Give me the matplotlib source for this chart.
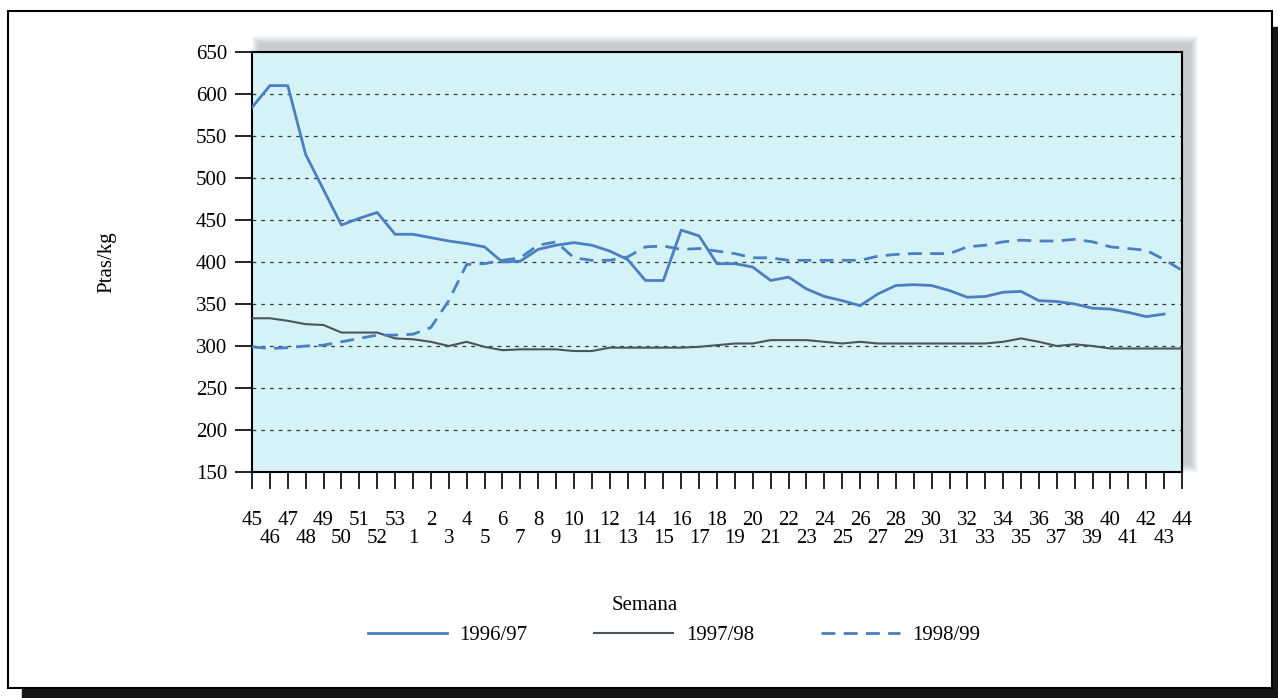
import numpy as np
import matplotlib
matplotlib.use("Agg")
import matplotlib.pyplot as plt
from matplotlib.patches import Rectangle

plt.rcParams["font.family"] = ["Liberation Serif", "DejaVu Serif"]

# Semanas: 45..53 de un año, 1..44 del siguiente
semanas = list(range(45, 54)) + list(range(1, 45))

precio_9697 = [584, 610, 610, 528, 486, 444, 452, 459, 433, 433,
               429, 425, 422, 418, 400, 401, 415, 420, 423, 420,
               413, 403, 378, 378, 438, 431, 398, 398, 394, 378,
               382, 368, 359, 354, 348, 362, 372, 373, 372, 366,
               358, 359, 364, 365, 354, 353, 350, 345, 344, 340,
               335, 338, np.nan]
precio_9798 = [333, 333, 330, 326, 325, 316, 316, 316, 309, 308,
               305, 300, 305, 299, 295, 296, 296, 296, 294, 294,
               298, 298, 298, 298, 298, 299, 301, 303, 303, 307,
               307, 307, 305, 303, 305, 303, 303, 303, 303, 303,
               303, 303, 305, 309, 305, 300, 302, 300, 297, 297,
               297, 297, 297]
precio_9899 = [299, 297, 298, 300, 301, 305, 309, 313, 313, 314,
               322, 354, 397, 398, 402, 405, 420, 424, 405, 402,
               402, 406, 418, 419, 415, 416, 413, 410, 405, 405,
               402, 402, 402, 402, 402, 407, 409, 410, 410, 410,
               418, 420, 424, 426, 425, 425, 427, 424, 418, 416,
               414, 403, 390]

W, H = 1278, 698
fig = plt.figure(figsize=(W / 100, H / 100), dpi=100)


def fx(px):
    return px / W


def fy(py):
    return 1 - py / H


# outer frame with drop shadow
fig.patches.append(Rectangle((fx(1272), fy(698)), fx(6), fy(27) - fy(698),
                             transform=fig.transFigure, color="#151515", zorder=0))
fig.patches.append(Rectangle((fx(22), fy(698)), fx(1256), fy(688) - fy(698),
                             transform=fig.transFigure, color="#151515", zorder=0))
fig.patches.append(Rectangle((fx(8), fy(688)), fx(1264), fy(11) - fy(688),
                             transform=fig.transFigure, facecolor="white",
                             edgecolor="black", linewidth=1.5, zorder=0.5))

# soft shadow behind the plot area
ax_l, ax_r, ax_t, ax_b = 252, 1182, 52, 472
for k in range(8):
    grow = 8 - k
    fig.patches.append(Rectangle((fx(ax_l + 8 - grow), fy(ax_b - 8 + grow)),
                                 fx(ax_r - ax_l + 2 * grow),
                                 fy(ax_t - 8 - grow) - fy(ax_b - 8 + grow),
                                 transform=fig.transFigure, color="#8a8f98",
                                 alpha=0.07, linewidth=0, zorder=0.6))

ax = fig.add_axes([fx(ax_l), fy(ax_b), fx(ax_r - ax_l), fy(ax_t) - fy(ax_b)])
ax.set_zorder(2)
ax.set_facecolor("#d5f2f6")

x = np.arange(len(semanas))
ax.plot(x, precio_9697, color="#4a7fc1", lw=2.0, label="1996/97", zorder=4)
ax.plot(x, precio_9798, color="#4c555c", lw=1.5, label="1997/98", zorder=3)
ax.plot(x, precio_9899, color="#4a7fc1", lw=2.0, ls=(0, (5, 3)),
        label="1998/99", zorder=3)

ax.set_xlim(0, len(semanas) - 1)
ax.set_ylim(150, 650)
ax.set_yticks(range(150, 651, 50))
for v in range(200, 601, 50):
    ax.axhline(v, color="#3a3a3a", lw=0.9, ls=(0, (3, 4)), zorder=1)

# two rows of week labels: even positions on top, odd ones underneath
ax.set_xticks(x[::2])
ax.set_xticklabels([str(s) for s in semanas[::2]])
ax.set_xticks(x[1::2], minor=True)
ax.set_xticklabels([str(s) for s in semanas[1::2]], minor=True)
ax.tick_params(axis="both", which="both", direction="out", length=12,
               width=1.2, labelsize=15, color="black")
ax.tick_params(axis="x", which="major", pad=16)
ax.tick_params(axis="x", which="minor", pad=29)
ax.tick_params(axis="y", pad=6)
for sp in ax.spines.values():
    sp.set_color("black")
    sp.set_linewidth(1.5)

fig.text(fx(107), fy(262), "Ptas/kg", rotation=90, ha="center", va="center",
         fontsize=15)
fig.text(fx(645), fy(606), "Semana", ha="center", va="center", fontsize=15)

fig.legend(loc="center", bbox_to_anchor=(fx(674), fy(635)), ncol=3,
           frameon=False, fontsize=15, handlelength=3.8, handletextpad=0.6,
           columnspacing=3.2)

fig.savefig("out.png", dpi=100)
